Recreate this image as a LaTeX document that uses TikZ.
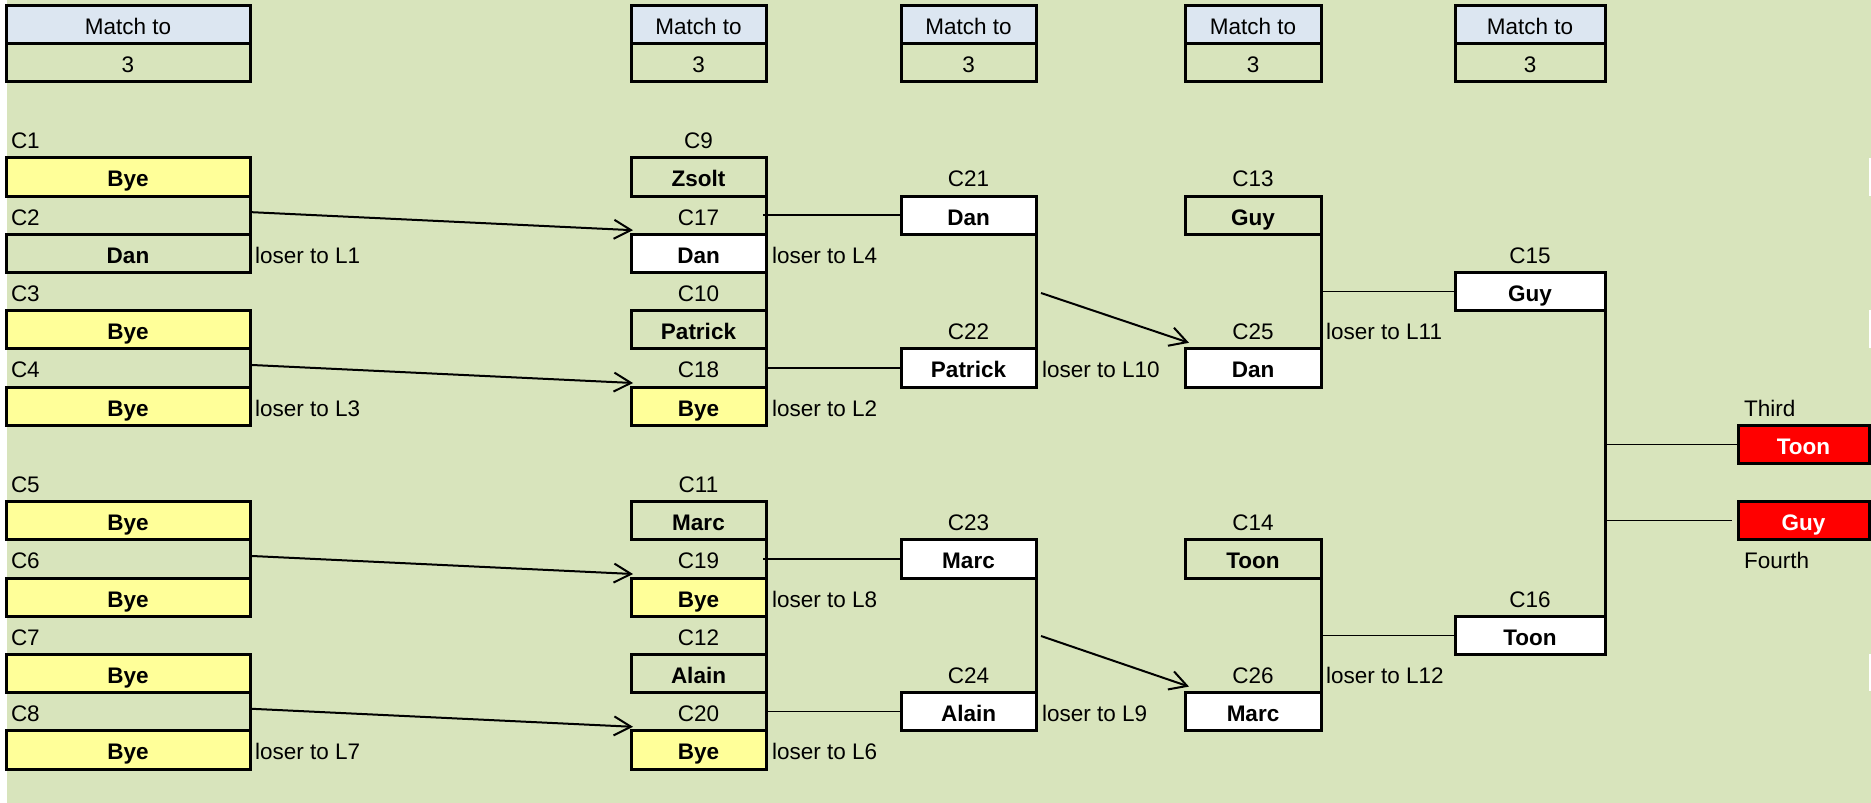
\documentclass[tikz,border=0pt]{standalone}
\usepackage{fontspec}
\setmainfont{Liberation Sans}
\usetikzlibrary{arrows.meta,calc}
\definecolor{bggreen}{HTML}{D8E4BC}
\definecolor{hdrblue}{HTML}{DCE6F1}
\definecolor{byeyellow}{HTML}{FFFF99}
\definecolor{winred}{HTML}{FF0000}
\newcommand{\regf}{\fontsize{22.5}{27}\selectfont}
\newcommand{\boldf}{\fontsize{22.5}{27}\selectfont\bfseries}
\tikzset{
  cell/.style={minimum height=38.2pt, inner sep=0pt, outer sep=0pt, text height=20pt, text depth=0pt, font=\regf},
  lbl/.style={cell, minimum width=#1},
  lblA/.style={cell, inner xsep=5pt, text width=234pt, align=left},
  lblF/.style={cell, inner xsep=6pt, text width=119pt, align=left},
  box/.style={cell, draw, line width=3pt, font=\boldf, minimum width=#1},
  gbox/.style={box=#1},
  wbox/.style={box=#1, fill=white},
  ybox/.style={box=#1, fill=byeyellow},
  rbox/.style={box=#1, fill=winred, text=white},
  hdrbox/.style={box=#1, fill=hdrblue, font=\regf},
  valbox/.style={box=#1, font=\regf},
  loser/.style={anchor=west, inner sep=0pt, text height=20pt, text depth=0pt, font=\regf},
  border/.style={line width=3pt},
  link/.style={line width=1.5pt},
  adv/.style={line width=2pt, -{Straight Barb[length=17pt, width=19pt]}},
}
\begin{document}
\begin{tikzpicture}[x=1pt, y=-1pt]
\useasboundingbox (0,0) rectangle (1871,803);
\fill[bggreen] (7,0) rectangle (1871,803);
\fill[white] (0,0) rectangle (7,803);
% small white edge marks at the right border
\fill[white] (1869,158) rectangle (1871,196);
\fill[white] (1869,310) rectangle (1871,348);
\fill[white] (1869,654) rectangle (1871,691);

% Match to headers
\node[hdrbox=244pt] (mA) at (128,24.1) {Match to};
\node[valbox=244pt] (vA) at (128,62.3) {3};
\node[hdrbox=135pt] (mB) at (698.5,24.1) {Match to};
\node[valbox=135pt] (vB) at (698.5,62.3) {3};
\node[hdrbox=135pt] (mC) at (968.5,24.1) {Match to};
\node[valbox=135pt] (vC) at (968.5,62.3) {3};
\node[hdrbox=136pt] (mD) at (1253,24.1) {Match to};
\node[valbox=136pt] (vD) at (1253,62.3) {3};
\node[hdrbox=150pt] (mE) at (1530,24.1) {Match to};
\node[valbox=150pt] (vE) at (1530,62.3) {3};

% Column A
\node[lblA] (c1) at (128,138.7) {C1};
\node[ybox=244pt] (a1) at (128,176.9) {Bye};
\node[lblA] (c2) at (128,215.1) {C2};
\node[gbox=244pt] (a2) at (128,253.3) {Dan};
\node[lblA] (c3) at (128,291.5) {C3};
\node[ybox=244pt] (a3) at (128,329.7) {Bye};
\node[lblA] (c4) at (128,367.9) {C4};
\node[ybox=244pt] (a4) at (128,406.1) {Bye};
\node[lblA] (c5) at (128,482.5) {C5};
\node[ybox=244pt] (a5) at (128,520.7) {Bye};
\node[lblA] (c6) at (128,558.9) {C6};
\node[ybox=244pt] (a6) at (128,597.1) {Bye};
\node[lblA] (c7) at (128,635.3) {C7};
\node[ybox=244pt] (a7) at (128,673.5) {Bye};
\node[lblA] (c8) at (128,711.7) {C8};
\node[ybox=244pt] (a8) at (128,749.9) {Bye};

% Column B
\node[lbl=135pt] (c9) at (698.5,138.7) {C9};
\node[gbox=135pt] (b1) at (698.5,176.9) {Zsolt};
\node[lbl=135pt] (c17) at (698.5,215.1) {C17};
\node[wbox=135pt] (b2) at (698.5,253.3) {Dan};
\node[lbl=135pt] (c10) at (698.5,291.5) {C10};
\node[gbox=135pt] (b3) at (698.5,329.7) {Patrick};
\node[lbl=135pt] (c18) at (698.5,367.9) {C18};
\node[ybox=135pt] (b4) at (698.5,406.1) {Bye};
\node[lbl=135pt] (c11) at (698.5,482.5) {C11};
\node[gbox=135pt] (b5) at (698.5,520.7) {Marc};
\node[lbl=135pt] (c19) at (698.5,558.9) {C19};
\node[ybox=135pt] (b6) at (698.5,597.1) {Bye};
\node[lbl=135pt] (c12) at (698.5,635.3) {C12};
\node[gbox=135pt] (b7) at (698.5,673.5) {Alain};
\node[lbl=135pt] (c20) at (698.5,711.7) {C20};
\node[ybox=135pt] (b8) at (698.5,749.9) {Bye};

% Column C
\node[lbl=135pt] (c21) at (968.5,176.9) {C21};
\node[wbox=135pt] (d21) at (968.5,215.1) {Dan};
\node[lbl=135pt] (c22) at (968.5,329.7) {C22};
\node[wbox=135pt] (d22) at (968.5,367.9) {Patrick};
\node[lbl=135pt] (c23) at (968.5,520.7) {C23};
\node[wbox=135pt] (d23) at (968.5,558.9) {Marc};
\node[lbl=135pt] (c24) at (968.5,673.5) {C24};
\node[wbox=135pt] (d24) at (968.5,711.7) {Alain};

% Column D
\node[lbl=136pt] (c13) at (1253,176.9) {C13};
\node[gbox=136pt] (e13) at (1253,215.1) {Guy};
\node[lbl=136pt] (c25) at (1253,329.7) {C25};
\node[wbox=136pt] (e25) at (1253,367.9) {Dan};
\node[lbl=136pt] (c14) at (1253,520.7) {C14};
\node[gbox=136pt] (e14) at (1253,558.9) {Toon};
\node[lbl=136pt] (c26) at (1253,673.5) {C26};
\node[wbox=136pt] (e26) at (1253,711.7) {Marc};

% Column E
\node[lbl=150pt] (c15) at (1530,253.3) {C15};
\node[wbox=150pt] (f15) at (1530,291.5) {Guy};
\node[lbl=150pt] (c16) at (1530,597.1) {C16};
\node[wbox=150pt] (f16) at (1530,635.3) {Toon};

% Column F
\node[lblF] (third) at (1803.5,406.1) {Third};
\node[rbox=131pt] (g1) at (1803.5,444.3) {Toon};
\node[rbox=131pt] (g2) at (1803.5,520.7) {Guy};
\node[lblF] (fourth) at (1803.5,558.9) {Fourth};

% loser labels
\node[loser] (l1) at (255,253.3) {loser to L1};
\node[loser] (l3) at (255,406.1) {loser to L3};
\node[loser] (l7) at (255,749.9) {loser to L7};
\node[loser] (l4) at (772,253.3) {loser to L4};
\node[loser] (l2) at (772,406.1) {loser to L2};
\node[loser] (l8) at (772,597.1) {loser to L8};
\node[loser] (l6) at (772,749.9) {loser to L6};
\node[loser] (l10) at (1042,367.9) {loser to L10};
\node[loser] (l9) at (1042,711.7) {loser to L9};
\node[loser] (l11) at (1326,329.7) {loser to L11};
\node[loser] (l12) at (1326,673.5) {loser to L12};

% Column A brackets and arrows
\draw[border] (a1.south east) -- (a2.north east);
\draw[border] (a3.south east) -- (a4.north east);
\draw[border] (a5.south east) -- (a6.north east);
\draw[border] (a7.south east) -- (a8.north east);
\draw[adv] ([yshift=3pt]c2.east) -- ([shift={(2pt,4pt)}]b2.north west);
\draw[adv] ([yshift=3pt]c4.east) -- ([shift={(2pt,4pt)}]b4.north west);
\draw[adv] ([yshift=3pt]c6.east) -- ([shift={(2pt,4pt)}]b6.north west);
\draw[adv] ([yshift=3pt]c8.east) -- ([shift={(2pt,4pt)}]b8.north west);

% Column B brackets and links
\draw[border] (b1.south east) -- (b2.north east);
\draw[border] (b2.south east) -- (b3.north east);
\draw[border] (b3.south east) -- (b4.north east);
\draw[border] (b5.south east) -- (b6.north east);
\draw[border] (b6.south east) -- (b7.north east);
\draw[border] (b7.south east) -- (b8.north east);
\draw[link] ([xshift=-3pt]c17.east) -- (d21.west);
\draw[link] (c18.east) -- (d22.west);
\draw[link] ([xshift=-3pt]c19.east) -- (d23.west);
\draw[link] (c20.east) -- (d24.west);

% Column C brackets and arrows
\draw[border] (d21.south east) -- (d22.north east);
\draw[border] (d23.south east) -- (d24.north east);
\coordinate (s1) at (1041,293);
\coordinate (s2) at (1041,636);
\draw[adv] (s1) -- ([shift={(4pt,6pt)}]e25.north west);
\draw[adv] (s2) -- ([shift={(4pt,6pt)}]e26.north west);

% Column D brackets and links
\draw[border] (e13.south east) -- (e25.north east);
\draw[border] (e14.south east) -- (e26.north east);
\draw[link] (e13.east |- f15.west) -- (f15.west);
\draw[link] (e14.east |- f16.west) -- (f16.west);

% Column E bracket and links
\draw[border] (f15.south east) -- (f16.north east);
\draw[link] (f15.east |- g1.west) -- (g1.west);
\draw[link] (f15.east |- g2.west) -- ([xshift=-6pt]g2.west);
\end{tikzpicture}
\end{document}
